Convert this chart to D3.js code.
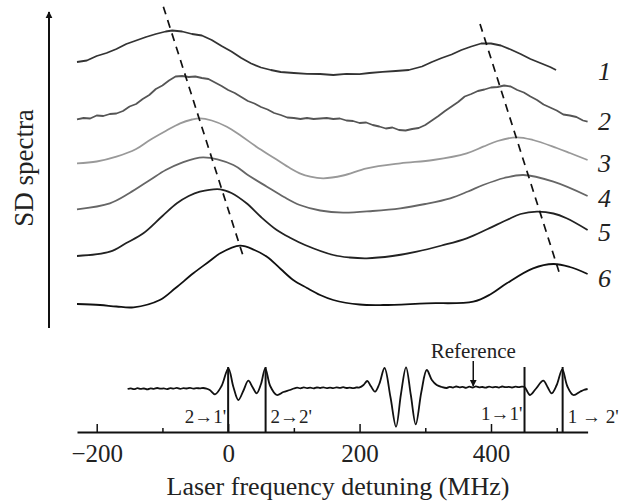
<!DOCTYPE html>
<html>
<head>
<meta charset="utf-8">
<script src="https://cdn.jsdelivr.net/npm/d3@7"></script>
<style>
  body { margin: 0; background: #fff; }
  text { font-family: "Liberation Serif", "Times New Roman", serif; fill: #222; }
</style>
</head>
<body>
<div id="chart-area"></div>
<script>

// SD spectra, x = detuning (MHz), y = signal (arb. units, offset per curve)
let sd1 = [[-230,26.8],[-215,26.95],[-200,27.4],[-185,27.7],[-170,28.1],[-155,28.6],[-140,28.95],[-125,29.3],[-110,29.6],[-95,29.85],[-85,29.95],[-70,29.85],[-55,29.6],[-40,29.45],[-25,29.0],[-10,28.4],[5,27.85],[20,27.2],[35,26.65],[50,26.25],[65,26.0],[80,25.8],[100,25.7],[120,25.62],[140,25.6],[160,25.5],[180,25.62],[200,25.58],[215,25.7],[235,25.82],[255,25.9],[275,26.0],[295,26.35],[310,26.8],[325,27.2],[340,27.55],[355,28.0],[370,28.35],[385,28.65],[400,28.65],[415,28.45],[430,28.05],[445,27.6],[460,27.1],[475,26.7],[490,26.3],[499,26.0]];
let sd2 = [[-230,21.07],[-220,21.2],[-210,21.15],[-200,21.45],[-190,21.4],[-180,21.6],[-170,21.65],[-160,21.9],[-150,22.35],[-140,22.6],[-130,23.1],[-120,23.5],[-110,24.1],[-100,24.45],[-90,24.95],[-80,25.35],[-70,25.4],[-60,25.3],[-50,25.35],[-40,25.2],[-30,25.1],[-20,24.75],[-10,24.4],[0,24.0],[10,23.7],[20,23.3],[30,22.9],[40,22.65],[50,22.3],[60,22.05],[70,21.7],[80,21.5],[90,21.25],[100,21.2],[110,21.1],[120,21.2],[130,21.1],[140,21.15],[150,21.2],[160,21.1],[170,21.15],[180,20.95],[190,20.9],[200,20.7],[210,20.75],[220,20.5],[230,20.35],[240,20.15],[250,20.25],[260,20.0],[270,19.95],[280,20.1],[290,20.2],[300,20.5],[310,20.95],[320,21.4],[330,21.9],[340,22.35],[350,22.8],[360,23.35],[370,23.6],[380,23.9],[390,24.05],[400,24.25],[410,24.3],[420,24.45],[430,24.35],[440,24.0],[450,23.75],[460,23.35],[470,23.0],[480,22.55],[490,22.25],[500,21.95],[510,21.55],[520,21.45],[530,21.3],[540,20.95],[547,20.83]];
let sd3 = [[-230,16.67],[-200,16.85],[-170,17.33],[-140,18.1],[-119,19.0],[-95,19.9],[-73,20.67],[-55,21.05],[-43,21.17],[-25,20.95],[-2,20.33],[20,19.4],[43,18.33],[70,17.2],[95,16.15],[109,15.67],[125,15.33],[145,15.17],[175,15.45],[211,16.17],[262,16.67],[312,17.0],[363,17.67],[388,18.33],[410,18.9],[439,19.27],[464,19.0],[500,18.2],[520,17.7],[547,17.0]];
let sd4 = [[-230,12.07],[-180,12.67],[-150,13.7],[-119,15.0],[-95,16.0],[-73,16.67],[-38,17.27],[8,16.5],[30,15.5],[59,14.33],[85,13.3],[109,12.5],[140,11.95],[175,11.73],[220,11.9],[262,12.17],[300,12.6],[338,13.17],[365,13.85],[388,14.5],[420,15.2],[449,15.5],[495,14.83],[547,13.4]];
let sd5 = [[-230,7.4],[-180,7.83],[-155,8.7],[-129,9.67],[-100,11.4],[-78,12.67],[-60,13.4],[-43,13.83],[-12,14.07],[5,13.7],[28,12.67],[50,11.3],[74,10.0],[95,9.2],[117,8.5],[160,7.5],[185,7.25],[211,7.17],[250,7.4],[287,7.83],[325,8.45],[363,9.17],[395,10.1],[424,11.0],[445,11.6],[470,11.83],[495,11.65],[515,11.17],[547,10.0]];
let sd6 = [[-230,2.6],[-195,2.5],[-170,2.35],[-144,2.27],[-104,3.0],[-80,4.2],[-53,5.67],[-30,6.8],[-12,7.67],[18,8.43],[40,8.0],[59,7.33],[80,6.1],[99,5.0],[120,4.2],[140,3.5],[160,3.0],[200,2.55],[236,2.5],[302,2.67],[373,2.83],[400,3.6],[424,4.67],[464,6.17],[495,6.6],[520,6.3],[547,5.6]];

let sdSeries = [sd1, sd2, sd3, sd4, sd5, sd6];
let sdLabels = ["1", "2", "3", "4", "5", "6"];
let sdColors = ["#333", "#555", "#999", "#666", "#222", "#111"];
let sdNoisy = [true, true, false, false, false, false];
// peak shift guide lines (MHz, signal)
let guideLeft = [[-98.6, 32.33], [23.1, 7.33]];
let guideRight = [[383.3, 30.6], [505, 5.5]];

// reference saturated-absorption spectrum
let refSpectrum = [[-153,0],[-148,0.6],[-143,-0.2],[-138,0.8],[-133,0.1],[-128,0.5],[-123,-0.4],[-118,0.7],[-113,0.2],[-108,1.0],[-103,0.3],[-98,0.6],[-93,-0.1],[-88,0.9],[-83,0.4],[-78,1.1],[-73,0.2],[-68,0.8],[-63,0.5],[-58,1.2],[-53,0.3],[-48,0.9],[-43,0.6],[-38,1.0],[-33,0.4],[-28,-1],[-20,-5.3],[-10,3],[0.3,20.7],[8,2],[15.5,-11],[23,-2],[30.7,8.3],[37,2],[43.5,-4.3],[50,5],[56.5,20.7],[64,3],[74,-6],[84,-3],[94,-1],[100,0.5],[105,1.3],[110,0.7],[115,1.6],[120,0.9],[125,1.4],[130,0.6],[135,1.5],[140,1.0],[145,1.7],[150,0.8],[155,1.3],[160,0.9],[165,1.6],[170,1.1],[175,1.8],[180,1.0],[185,1.4],[190,0.8],[195,1.5],[200,1.6],[206,4],[211.8,8],[217,3],[223.5,-2.7],[230,5],[238,21],[247,-8],[255.5,-37.7],[263,-5],[270.7,21.7],[278,-6],[285.5,-35.3],[294,-3],[302.2,19],[310,9],[317.4,4],[325,2],[332.6,1],[337,2.2],[342,1.4],[347,2.5],[352,1.6],[357,2.1],[362,1.2],[367,2.3],[372,1.5],[377,2.6],[382,1.7],[387,2.0],[392,1.3],[397,2.4],[402,1.6],[407,2.2],[412,1.4],[417,2.5],[422,1.8],[427,2.1],[432,1.5],[437,2.4],[442,1.9],[447,2.3],[451,2],[459.4,-6],[468,0],[479.6,8.3],[486,2],[492.4,-4.3],[500,4],[508.5,19.7],[516,3],[525.3,-6],[535.5,-2.7],[541,-1],[547,0]];
let transitions = [0, 57, 451, 509];
let transitionLabels = ["2\u21921'", "2\u21922'", "1\u21921'", "1 \u2192 2'"];
let referenceMark = 373;

let xTicksMajor = [-200, 0, 200, 400];
let xTicksMinor = [-100, 100, 300, 500];

const W = 625, H = 504;
const svg = d3.select("#chart-area").append("svg").attr("width", W).attr("height", H);

let x = d3.scaleLinear().domain([-230, 547]).range([77, 587.6]);
let ySD = d3.scaleLinear().domain([0, 32]).range([330, 10]);
let yRef = d3.scaleLinear().domain([-40, 25]).range([429, 364]);

// vertical "SD spectra" arrow
svg.append("defs").append("marker")
  .attr("id", "ah").attr("viewBox", "0 0 10 10").attr("refX", 9).attr("refY", 5)
  .attr("markerWidth", 7).attr("markerHeight", 12).attr("markerUnits", "userSpaceOnUse")
  .attr("orient", "auto")
  .append("path").attr("d", "M0,0L10,5L0,10Z").attr("fill", "#111");
svg.append("line").attr("x1", 49).attr("x2", 49).attr("y1", 328).attr("y2", 12)
  .attr("stroke", "#111").attr("stroke-width", 2).attr("marker-end", "url(#ah)");
svg.append("text").attr("transform", "translate(33,168) rotate(-90)")
  .attr("text-anchor", "middle").style("font-size", "27px").text("SD spectra");

// SD curves
let lineSmooth = d3.line().x(d => x(d[0])).y(d => ySD(d[1])).curve(d3.curveCatmullRom.alpha(0.5));
let lineRough = d3.line().x(d => x(d[0])).y(d => ySD(d[1]));
sdSeries.forEach(function(s, i){
  svg.append("path").attr("d", sdNoisy[i] ? lineRough(s) : lineSmooth(s))
    .attr("fill", "none").attr("stroke", sdColors[i]).attr("stroke-width", 1.8)
    .attr("stroke-linejoin", "round");
});

let labelY = [80, 130, 171.7, 206.7, 240.7, 286.7];
sdLabels.forEach(function(t, i){
  svg.append("text").attr("x", 598).attr("y", labelY[i])
    .style("font-size", "26px").style("font-style", "italic").text(t);
});

[guideLeft, guideRight].forEach(g => {
  svg.append("path").attr("d", lineRough(g)).attr("fill", "none")
    .attr("stroke", "#111").attr("stroke-width", 1.7).attr("stroke-dasharray", "8,6");
});

// reference spectrum
let lineRef = d3.line().x(d => x(d[0])).y(d => yRef(d[1])).curve(d3.curveCatmullRom.alpha(0.5));
svg.append("path").attr("d", lineRef(refSpectrum)).attr("fill", "none")
  .attr("stroke", "#111").attr("stroke-width", 1.8).attr("stroke-linejoin", "round");

// x axis
const axisY = 432;
let gAxis = svg.append("g").attr("transform", `translate(0,${axisY})`)
  .call(d3.axisBottom(x).tickValues(xTicksMajor).tickSizeInner(-8).tickSizeOuter(0)
    .tickPadding(12).tickFormat(d3.format("d")));
gAxis.select(".domain").attr("stroke", "#111").attr("stroke-width", 1.8);
gAxis.selectAll(".tick line").attr("stroke", "#111").attr("stroke-width", 1.5);
gAxis.selectAll(".tick text").style("font-size", "25px")
  .style("font-family", "'Liberation Serif', 'Times New Roman', serif").attr("fill", "#222");
let gMinor = svg.append("g").attr("transform", `translate(0,${axisY})`)
  .call(d3.axisBottom(x).tickValues(xTicksMinor).tickSizeInner(-4).tickSizeOuter(0).tickFormat(""));
gMinor.select(".domain").remove();
gMinor.selectAll(".tick line").attr("stroke", "#111").attr("stroke-width", 1.5);

// transition markers
transitions.forEach(function(f, i){
  svg.append("line").attr("x1", x(f)).attr("x2", x(f))
    .attr("y1", yRef(22)).attr("y2", axisY).attr("stroke", "#111").attr("stroke-width", 2);
  let left = (i === 0 || i === 2);
  svg.append("text").attr("x", left ? x(f) - 2 : x(f) + 5).attr("y", i === 2 ? 420 : 423)
    .attr("text-anchor", left ? "end" : "start").style("font-size", "19px")
    .text(transitionLabels[i]);
});

// reference label + arrow
svg.append("text").attr("x", x(referenceMark)).attr("y", 358).attr("text-anchor", "middle")
  .style("font-size", "21px").text("Reference");
svg.append("line").attr("x1", x(referenceMark)).attr("x2", x(referenceMark))
  .attr("y1", 361).attr("y2", 386).attr("stroke", "#111").attr("stroke-width", 1.5)
  .attr("marker-end", "url(#ah)");

svg.append("text").attr("x", 338).attr("y", 495).attr("text-anchor", "middle")
  .style("font-size", "26px").text("Laser frequency detuning (MHz)");

</script>
</body>
</html>
